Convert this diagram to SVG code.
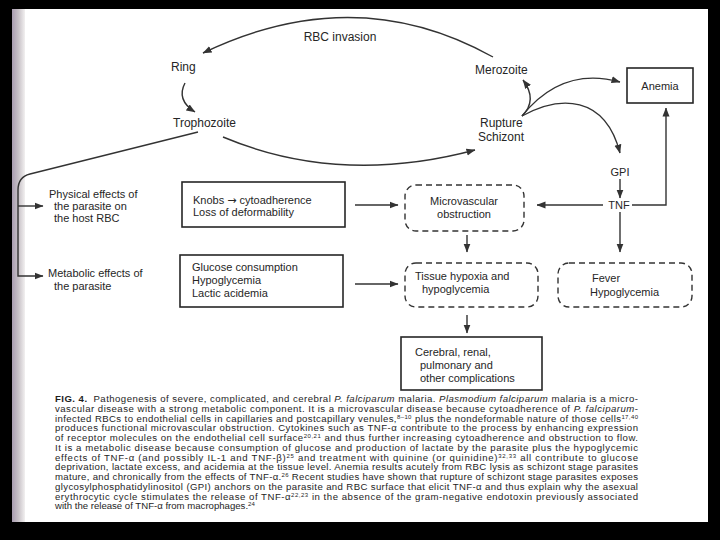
<svg xmlns="http://www.w3.org/2000/svg" width="720" height="540" viewBox="0 0 720 540">
<style>
.lbl{font-family:"Liberation Sans",Arial,sans-serif;font-size:12px;fill:#262626}
.sm{font-size:11px}
.box{fill:none;stroke:#262626;stroke-width:1.6}
.dash{fill:none;stroke:#333;stroke-width:1.4;stroke-dasharray:6 4}
.conn{fill:none;stroke:#333;stroke-width:1.4}
.cap{font-family:"Liberation Sans",Arial,sans-serif;font-size:9.6px;fill:#1e1e1e}
.it{font-style:italic}
.sup{font-size:6px}
.arr{font-family:"DejaVu Sans",sans-serif;font-size:11px}
</style>
<defs>
<marker id="ah" markerWidth="9" markerHeight="8" refX="8.5" refY="4" orient="auto" markerUnits="userSpaceOnUse">
<path d="M0,0.5 L9,4 L0,7.5 z" fill="#333"/>
</marker>
<linearGradient id="strip" x1="0" y1="0" x2="1" y2="0">
<stop offset="0" stop-color="#a89cb0"/>
<stop offset="0.5" stop-color="#c8c2c8"/>
<stop offset="1" stop-color="#f2f0f0"/>
</linearGradient>
</defs>
<rect x="0" y="0" width="720" height="540" fill="#000"/>
<rect x="12" y="9" width="696" height="513" fill="#fff"/>
<rect x="12" y="9" width="13" height="513" fill="url(#strip)"/>

<g id="connectors" class="conn">
<path d="M493,57 Q355,-20 203,53" marker-end="url(#ah)"/>
<path d="M185,83 Q176,100 195,112" marker-end="url(#ah)"/>
<path d="M223,137 Q340,186 475,150" marker-end="url(#ah)"/>
<path d="M522,116 Q538,100 523,80" marker-end="url(#ah)"/>
<path d="M522,116 Q562,66 620,82" marker-end="url(#ah)"/>
<path d="M522,116 C560,95 605,95 620,153" marker-end="url(#ah)"/>
<path d="M620,179 V198" marker-end="url(#ah)"/>
<path d="M632,205 H666 V108" marker-end="url(#ah)"/>
<path d="M603,205 H537" marker-end="url(#ah)"/>
<path d="M620,212 V252" marker-end="url(#ah)"/>
<path d="M355,205 H398" marker-end="url(#ah)"/>
<path d="M355,284 H398" marker-end="url(#ah)"/>
<path d="M467,235 V252" marker-end="url(#ah)"/>
<path d="M467,315 V333" marker-end="url(#ah)"/>
<path d="M198,132 L30,174 Q18,177 18,190 V276 H43" marker-end="url(#ah)"/>
<path d="M18,206 H43" marker-end="url(#ah)"/>
</g>

<g id="rbc-invasion"><text class="lbl" x="340" y="41" text-anchor="middle">RBC invasion</text></g>
<g id="ring"><text class="lbl" x="171" y="71">Ring</text></g>
<g id="trophozoite"><text class="lbl" x="173" y="127">Trophozoite</text></g>
<g id="merozoite"><text class="lbl" x="475" y="74">Merozoite</text></g>
<g id="rupture-schizont"><text class="lbl" x="480" y="127" font-size="11.5">Rupture</text><text class="lbl" x="478" y="141" font-size="11.5">Schizont</text></g>
<g id="anemia"><rect class="box" x="627" y="68" width="66" height="35"/><text class="lbl sm" x="660" y="90" text-anchor="middle">Anemia</text></g>
<g id="gpi"><text class="lbl sm" x="620" y="176" text-anchor="middle">GPI</text></g>
<g id="tnf"><text class="lbl sm" x="619" y="209" text-anchor="middle">TNF</text></g>

<g id="physical-effects"><text class="lbl sm" x="49" y="198">Physical effects of</text><text class="lbl sm" x="54" y="210">the parasite on</text><text class="lbl sm" x="54" y="222">the host RBC</text></g>
<g id="metabolic-effects"><text class="lbl sm" x="48" y="277">Metabolic effects of</text><text class="lbl sm" x="54" y="290">the parasite</text></g>

<g id="knobs"><rect class="box" x="182" y="182" width="163" height="45"/><text class="lbl sm" x="193" y="204">Knobs <tspan class="arr">→</tspan> cytoadherence</text><text class="lbl sm" x="193" y="216">Loss of deformability</text></g>
<g id="glucose"><rect class="box" x="180" y="255" width="163" height="52"/><text class="lbl sm" x="192" y="271">Glucose consumption</text><text class="lbl sm" x="192" y="284">Hypoglycemia</text><text class="lbl sm" x="192" y="297">Lactic acidemia</text></g>

<g id="microvascular"><rect class="dash" x="405" y="185" width="119" height="46" rx="11"/><text class="lbl sm" x="464" y="205" text-anchor="middle">Microvascular</text><text class="lbl sm" x="464" y="218" text-anchor="middle">obstruction</text></g>
<g id="tissue-hypoxia"><rect class="dash" x="405" y="263" width="133" height="44" rx="11"/><text class="lbl sm" x="415" y="280">Tissue hypoxia and</text><text class="lbl sm" x="422" y="293">hypoglycemia</text></g>
<g id="fever"><rect class="dash" x="558" y="263" width="134" height="44" rx="11"/><text class="lbl sm" x="592" y="282">Fever</text><text class="lbl sm" x="590" y="296">Hypoglycemia</text></g>
<g id="complications"><rect class="box" x="401" y="337" width="141" height="53"/><text class="lbl sm" x="415" y="356">Cerebral, renal,</text><text class="lbl sm" x="420" y="369">pulmonary and</text><text class="lbl sm" x="420" y="382">other complications</text></g>

<g id="caption" class="cap">
<text x="55" y="402" textLength="583"><tspan font-weight="bold">FIG. 4.</tspan><tspan dx="6">Pathogenesis of severe, complicated, and cerebral </tspan><tspan class="it">P. falciparum</tspan> malaria. <tspan class="it">Plasmodium falciparum</tspan> malaria is a micro-</text>
<text x="55" y="411.75" textLength="583">vascular disease with a strong metabolic component. It is a microvascular disease because cytoadherence of <tspan class="it">P. falciparum</tspan>-</text>
<text x="55" y="421.5" textLength="583">infected RBCs to endothelial cells in capillaries and postcapillary venules,<tspan class="sup" dy="-3">8–10</tspan><tspan dy="3"> plus the nondeformable nature of those cells</tspan><tspan class="sup" dy="-3">17,40</tspan></text>
<text x="55" y="431.25" textLength="583">produces functional microvascular obstruction. Cytokines such as TNF-α contribute to the process by enhancing expression</text>
<text x="55" y="441" textLength="583">of receptor molecules on the endothelial cell surface<tspan class="sup" dy="-3">20,21</tspan><tspan dy="3"> and thus further increasing cytoadherence and obstruction to flow.</tspan></text>
<text x="55" y="450.75" textLength="583">It is a metabolic disease because consumption of glucose and production of lactate by the parasite plus the hypoglycemic</text>
<text x="55" y="460.5" textLength="583">effects of TNF-α (and possibly IL-1 and TNF-β)<tspan class="sup" dy="-3">25</tspan><tspan dy="3"> and treatment with quinine (or quinidine)</tspan><tspan class="sup" dy="-3">32,33</tspan><tspan dy="3"> all contribute to glucose</tspan></text>
<text x="55" y="470.25" textLength="583">deprivation, lactate excess, and acidemia at the tissue level. Anemia results acutely from RBC lysis as schizont stage parasites</text>
<text x="55" y="480" textLength="583">mature, and chronically from the effects of TNF-α.<tspan class="sup" dy="-3">26</tspan><tspan dy="3"> Recent studies have shown that rupture of schizont stage parasites exposes</tspan></text>
<text x="55" y="489.75" textLength="583">glycosylphosphatidylinositol (GPI) anchors on the parasite and RBC surface that elicit TNF-α and thus explain why the asexual</text>
<text x="55" y="499.5" textLength="583">erythrocytic cycle stimulates the release of TNF-α<tspan class="sup" dy="-3">22,23</tspan><tspan dy="3"> in the absence of the gram-negative endotoxin previously associated</tspan></text>
<text x="55" y="509.25">with the release of TNF-α from macrophages.<tspan class="sup" dy="-3">24</tspan></text>
</g>
</svg>
